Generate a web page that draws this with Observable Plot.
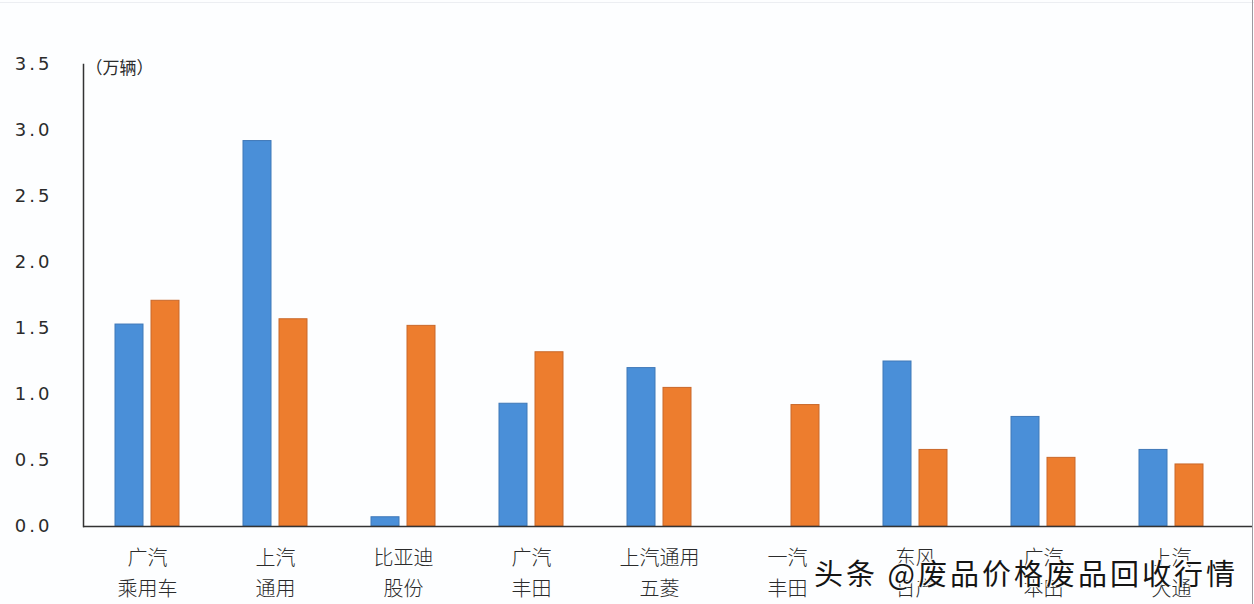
<!DOCTYPE html>
<html>
<head>
<meta charset="utf-8">
<script src="https://cdn.jsdelivr.net/npm/d3@7"></script>
<script src="https://cdn.jsdelivr.net/npm/@observablehq/plot@0.6"></script>
<style>
  html, body { margin: 0; padding: 0; background: #fdfeff; }
  #wrap { position: relative; width: 1254px; height: 604px; overflow: hidden; }
  #wrap::after { content: ""; position: absolute; right: 1px; top: 0; width: 1.5px; height: 604px; background: #9c9aa0; }
  #wrap::before { content: ""; position: absolute; left: 0; top: 2px; width: 1254px; height: 1px; background: #eceef2; }
  #wm { position: absolute; left: 814px; top: 551px; font-family: "Noto Sans CJK SC", sans-serif; font-size: 29px; color: #151515;
        letter-spacing: 3px; white-space: nowrap;
        text-shadow: 0 0 2px #fff, 0 0 2px #fff, 1px 1px 1px #fff, -1px -1px 1px #fff; }
  .yax text { letter-spacing: 3px; }
</style>
</head>
<body>
<div id="wrap"><div id="wm">头条 @废品价格废品回收行情</div></div>
<script>
const categories = ["广汽\n乘用车", "上汽\n通用", "比亚迪\n股份", "广汽\n丰田", "上汽通用\n五菱", "一汽\n丰田", "东风\n日产", "广汽\n本田", "上汽\n大通"];
const seriesBlue = [1.53, 2.92, 0.07, 0.93, 1.20, 0, 1.25, 0.83, 0.58];
const seriesOrange = [1.71, 1.57, 1.52, 1.32, 1.05, 0.92, 0.58, 0.52, 0.47];
const yTicks = [0, 0.5, 1.0, 1.5, 2.0, 2.5, 3.0, 3.5];
const unitLabel = "（万辆）";

const data = categories.map((c, i) => ({cat: c, blue: seriesBlue[i], orange: seriesOrange[i]}));

const chart = Plot.plot({
  width: 1254,
  height: 604,
  marginLeft: 83,
  marginRight: 2,
  marginTop: 64,
  marginBottom: 78,
  style: {fontFamily: "'Noto Sans CJK SC', sans-serif", background: "transparent", color: "#2b2b2b"},
  x: {domain: categories, padding: 0, paddingOuter: 0.066, align: 0, axis: null},
  y: {domain: [0, 3.5], axis: null},
  marks: [
    Plot.barY(data.filter(d => d.blue > 0), {x: "cat", y: "blue", fill: "#4a8fd8", stroke: "#3f78b8", strokeWidth: 1, insetLeft: 32, insetRight: 68}),
    Plot.barY(data, {x: "cat", y: "orange", fill: "#ed7d2e", stroke: "#c9682a", strokeWidth: 1, insetLeft: 68, insetRight: 32}),
    Plot.ruleY([0], {stroke: "#333", strokeWidth: 1.5}),
    Plot.frame({anchor: "left", stroke: "#333", strokeWidth: 1.5}),
    Plot.axisX({tickSize: 0, tickPadding: 16, fontSize: 20, lineHeight: 1.55, fill: "#2b2b2b", fontWeight: 300, label: null}),
    Plot.axisY({ticks: yTicks, tickSize: 0, tickPadding: 31, fontSize: 18, fontFamily: "DejaVu Sans", tickFormat: d => d.toFixed(1), fill: "#2b2b2b", label: null, className: "yax"}),
    Plot.text([unitLabel], {frameAnchor: "top-left", dx: 2, dy: -3, textAnchor: "start", fontSize: 17, fill: "#2b2b2b"})
  ]
});
document.getElementById("wrap").prepend(chart);
</script>
</body>
</html>
